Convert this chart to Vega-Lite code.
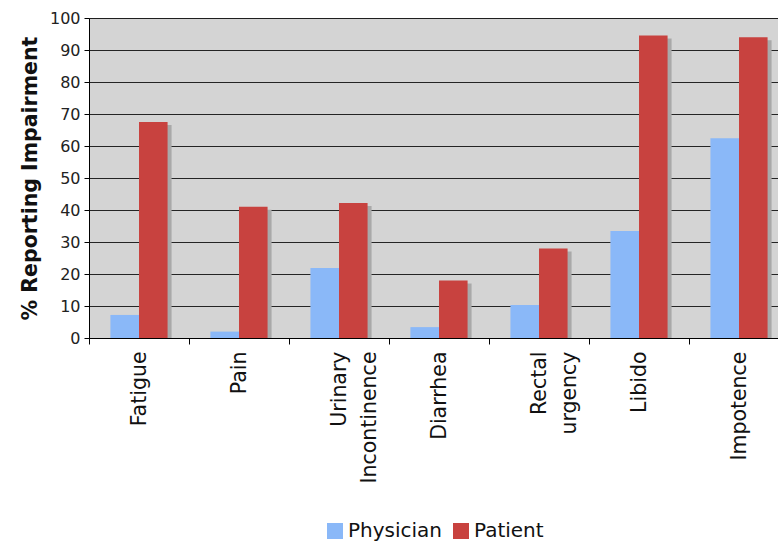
{
  "$schema": "https://vega.github.io/schema/vega-lite/v6.json",
  "autosize": {"type": "none"},
  "width": 700,
  "height": 320,
  "padding": {"left": 89, "top": 18, "right": 0, "bottom": 205},
  "background": "white",
  "config": {
    "font": "DejaVu Sans",
    "view": {"fill": "#d4d4d4", "stroke": "#a0a0a0"}
  },
  "data": {
    "values": [
      {"symptom": "Fatigue", "group": "Physician", "value": 7.2},
      {"symptom": "Fatigue", "group": "Patient", "value": 67.5},
      {"symptom": "Pain", "group": "Physician", "value": 2},
      {"symptom": "Pain", "group": "Patient", "value": 41},
      {"symptom": "Urinary Incontinence", "group": "Physician", "value": 21.9},
      {"symptom": "Urinary Incontinence", "group": "Patient", "value": 42.2},
      {"symptom": "Diarrhea", "group": "Physician", "value": 3.4},
      {"symptom": "Diarrhea", "group": "Patient", "value": 18},
      {"symptom": "Rectal urgency", "group": "Physician", "value": 10.3},
      {"symptom": "Rectal urgency", "group": "Patient", "value": 28},
      {"symptom": "Libido", "group": "Physician", "value": 33.4},
      {"symptom": "Libido", "group": "Patient", "value": 94.5},
      {"symptom": "Impotence", "group": "Physician", "value": 62.4},
      {"symptom": "Impotence", "group": "Patient", "value": 94}
    ]
  },
  "encoding": {
    "x": {
      "field": "symptom",
      "type": "nominal",
      "sort": null,
      "scale": {"paddingInner": 0, "paddingOuter": 0},
      "axis": {
        "title": null,
        "labelAngle": -90,
        "labelAlign": "right",
        "labelBaseline": "middle",
        "labelFontSize": 20.5,
        "labelColor": "#111",
        "labelLineHeight": 30,
        "labelExpr": "split(datum.label, ' ')",
        "tickBand": "extent",
        "tickSize": 6,
        "tickColor": "#000",
        "domainColor": "#000",
        "labelPadding": 7
      }
    },
    "y": {
      "field": "value",
      "type": "quantitative",
      "scale": {"domain": [0, 100], "nice": false},
      "axis": {
        "title": "% Reporting Impairment",
        "titleFontSize": 20.5,
        "titleFontWeight": "bold",
        "titleColor": "#111",
        "titlePadding": 9,
        "values": [0, 10, 20, 30, 40, 50, 60, 70, 80, 90, 100],
        "labelFontSize": 16,
        "labelColor": "#222",
        "tickSize": 5,
        "tickColor": "#000",
        "domainColor": "#000",
        "labelPadding": 4,
        "grid": true,
        "gridColor": "#111",
        "gridWidth": 1,
        "gridOpacity": 0.9
      }
    }
  },
  "layer": [
    {
      "mark": {"type": "bar", "color": "#a9a9a9", "yOffset": 3, "clip": true},
      "encoding": {
        "xOffset": {
          "field": "group",
          "type": "nominal",
          "sort": ["Physician", "Patient"],
          "scale": {"domain": ["Physician", "Patient"], "paddingInner": 0, "paddingOuter": 0.75, "range": [4, 104]}
        }
      }
    },
    {
      "mark": {"type": "bar"},
      "encoding": {
        "xOffset": {
          "field": "group",
          "type": "nominal",
          "sort": ["Physician", "Patient"],
          "scale": {"domain": ["Physician", "Patient"], "paddingInner": 0, "paddingOuter": 0.75}
        },
        "color": {
          "field": "group",
          "type": "nominal",
          "scale": {"domain": ["Physician", "Patient"], "range": ["#8ab8f8", "#c8423f"]},
          "legend": {
            "title": null,
            "orient": "none",
            "direction": "horizontal",
            "legendX": 236,
            "legendY": 503,
            "symbolType": "square",
            "symbolSize": 256,
            "symbolStrokeWidth": 0,
            "symbolOpacity": 1,
            "labelFontSize": 20,
            "labelColor": "#111",
            "columnPadding": 8,
            "labelOffset": 3
          }
        }
      }
    }
  ],
  "resolve": {"scale": {"xOffset": "independent"}}
}
